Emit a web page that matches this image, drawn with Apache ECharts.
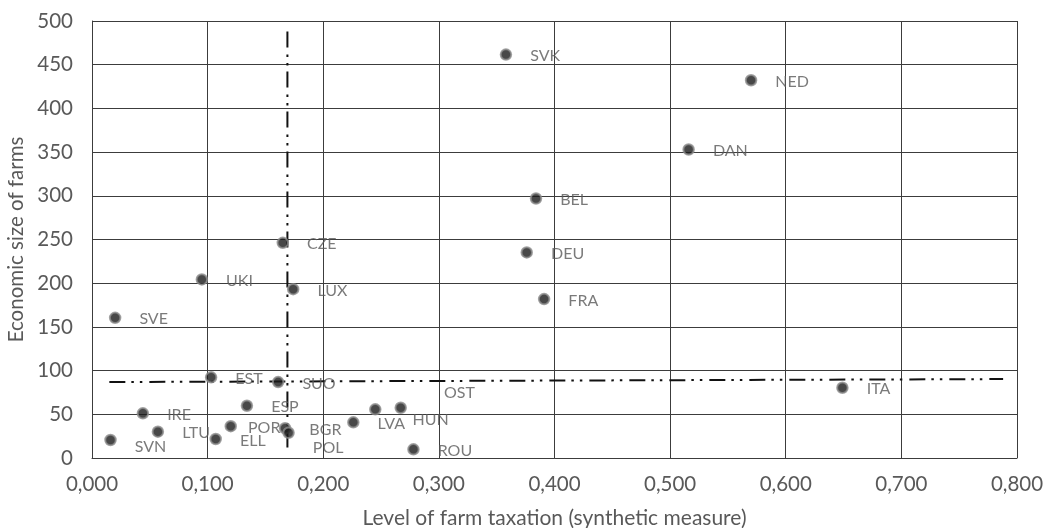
<!DOCTYPE html>
<html>
<head>
<meta charset="utf-8">
<script src="https://cdn.jsdelivr.net/npm/echarts@6/dist/echarts.min.js"></script>
<style>
  html, body { margin: 0; padding: 0; background: #ffffff; }
  #chart { width: 1043px; height: 528px; }
</style>
</head>
<body>
<div id="chart"></div>
<script>
// Country codes and their coordinates: farm taxation level (x) vs economic size of farms (y)
const countries = ['SVN', 'IRE', 'LTU', 'ELL', 'POR', 'EST', 'ESP', 'SUO', 'BGR', 'POL',
                   'LVA', 'HUN', 'OST', 'ROU', 'SVE', 'UKI', 'CZE', 'LUX', 'SVK', 'NED',
                   'DAN', 'BEL', 'DEU', 'FRA', 'ITA'];
const taxation = [0.016, 0.044, 0.057, 0.107, 0.120, 0.103, 0.134, 0.161, 0.167, 0.170,
                  0.226, 0.245, 0.267, 0.278, 0.020, 0.095, 0.165, 0.174, 0.358, 0.570,
                  0.516, 0.384, 0.376, 0.391, 0.649];
const farmSize = [20.6, 51.1, 30.1, 21.7, 36.4, 92.3, 59.8, 86.9, 34.0, 28.9,
                  40.8, 55.7, 57.5, 9.9, 160.4, 204.3, 246.2, 193.2, 461.6, 432.2,
                  353.0, 296.9, 235.2, 181.8, 80.4];

// Reference division lines (dash-dot-dot)
const splitLineH = [[0.015, 86.9], [0.788, 90.3]];
const splitLineV = [[0.169, 12], [0.169, 490]];

// Axis ranges and tick steps
const xRange = [0, 0.8], xStep = 0.1;
const yRange = [0, 500], yStep = 50;

// Extra label shifts (px) where labels were moved away from their default spot
const labelShift = {
  SVN: [0, 5.5],
  POR: [-7, 0],
  POL: [0, 13.5],
  HUN: [13, 9.5],
  OST: [19, -16.5]
};

const FONT = 'Lato, "Open Sans", sans-serif';
const TEXT_GRAY = '#595959';
const GRID_COLOR = '#3c3c3c';

const points = countries.map((name, i) => {
  const s = labelShift[name] || [0, 0];
  return {
    name: name,
    value: [taxation[i], farmSize[i]],
    label: { offset: [s[0], 1.5 + s[1]] }
  };
});

const dashDotDot = [16, 6, 2.5, 6, 2.5, 7];

const chart = echarts.init(document.getElementById('chart'), null, { renderer: 'canvas' });
chart.setOption({
  animation: false,
  backgroundColor: '#ffffff',
  grid: { left: 92, right: 26, top: 21, bottom: 70, containLabel: false, outerBoundsMode: 'none' },
  xAxis: {
    type: 'value',
    min: xRange[0], max: xRange[1], interval: xStep,
    name: 'Level of farm taxation (synthetic measure)',
    nameLocation: 'middle',
    nameGap: 50,
    nameTextStyle: { color: TEXT_GRAY, fontFamily: FONT, fontSize: 21 },
    axisLine: { show: true, lineStyle: { color: GRID_COLOR, width: 1 } },
    axisTick: { show: false },
    axisLabel: {
      color: TEXT_GRAY, fontFamily: FONT, fontSize: 20.5, margin: 16,
      formatter: v => v.toFixed(3).replace('.', ',')
    },
    splitLine: { show: true, lineStyle: { color: GRID_COLOR, width: 1 } }
  },
  yAxis: {
    type: 'value',
    min: yRange[0], max: yRange[1], interval: yStep,
    name: 'Economic size of farms',
    nameLocation: 'middle',
    nameGap: 64,
    nameTextStyle: { color: TEXT_GRAY, fontFamily: FONT, fontSize: 20.5 },
    axisLine: { show: true, lineStyle: { color: GRID_COLOR, width: 1 } },
    axisTick: { show: false },
    axisLabel: { color: TEXT_GRAY, fontFamily: FONT, fontSize: 20.5, margin: 19 },
    splitLine: { show: true, lineStyle: { color: GRID_COLOR, width: 1 } }
  },
  series: [
    {
      type: 'line',
      data: splitLineH,
      symbol: 'none',
      silent: true,
      z: 1,
      lineStyle: { color: '#111111', width: 2, type: dashDotDot }
    },
    {
      type: 'line',
      data: splitLineV,
      symbol: 'none',
      silent: true,
      z: 1,
      lineStyle: { color: '#111111', width: 2, type: dashDotDot }
    },
    {
      type: 'scatter',
      data: points,
      z: 3,
      symbol: 'circle',
      symbolSize: 10.5,
      itemStyle: { color: '#1a1a1a', borderColor: '#8c8c8c', borderWidth: 2 },
      label: {
        show: true,
        position: 'right',
        distance: 18,
        formatter: p => p.name,
        color: TEXT_GRAY,
        fontFamily: FONT,
        fontSize: 16
      }
    }
  ]
});
</script>
</body>
</html>
